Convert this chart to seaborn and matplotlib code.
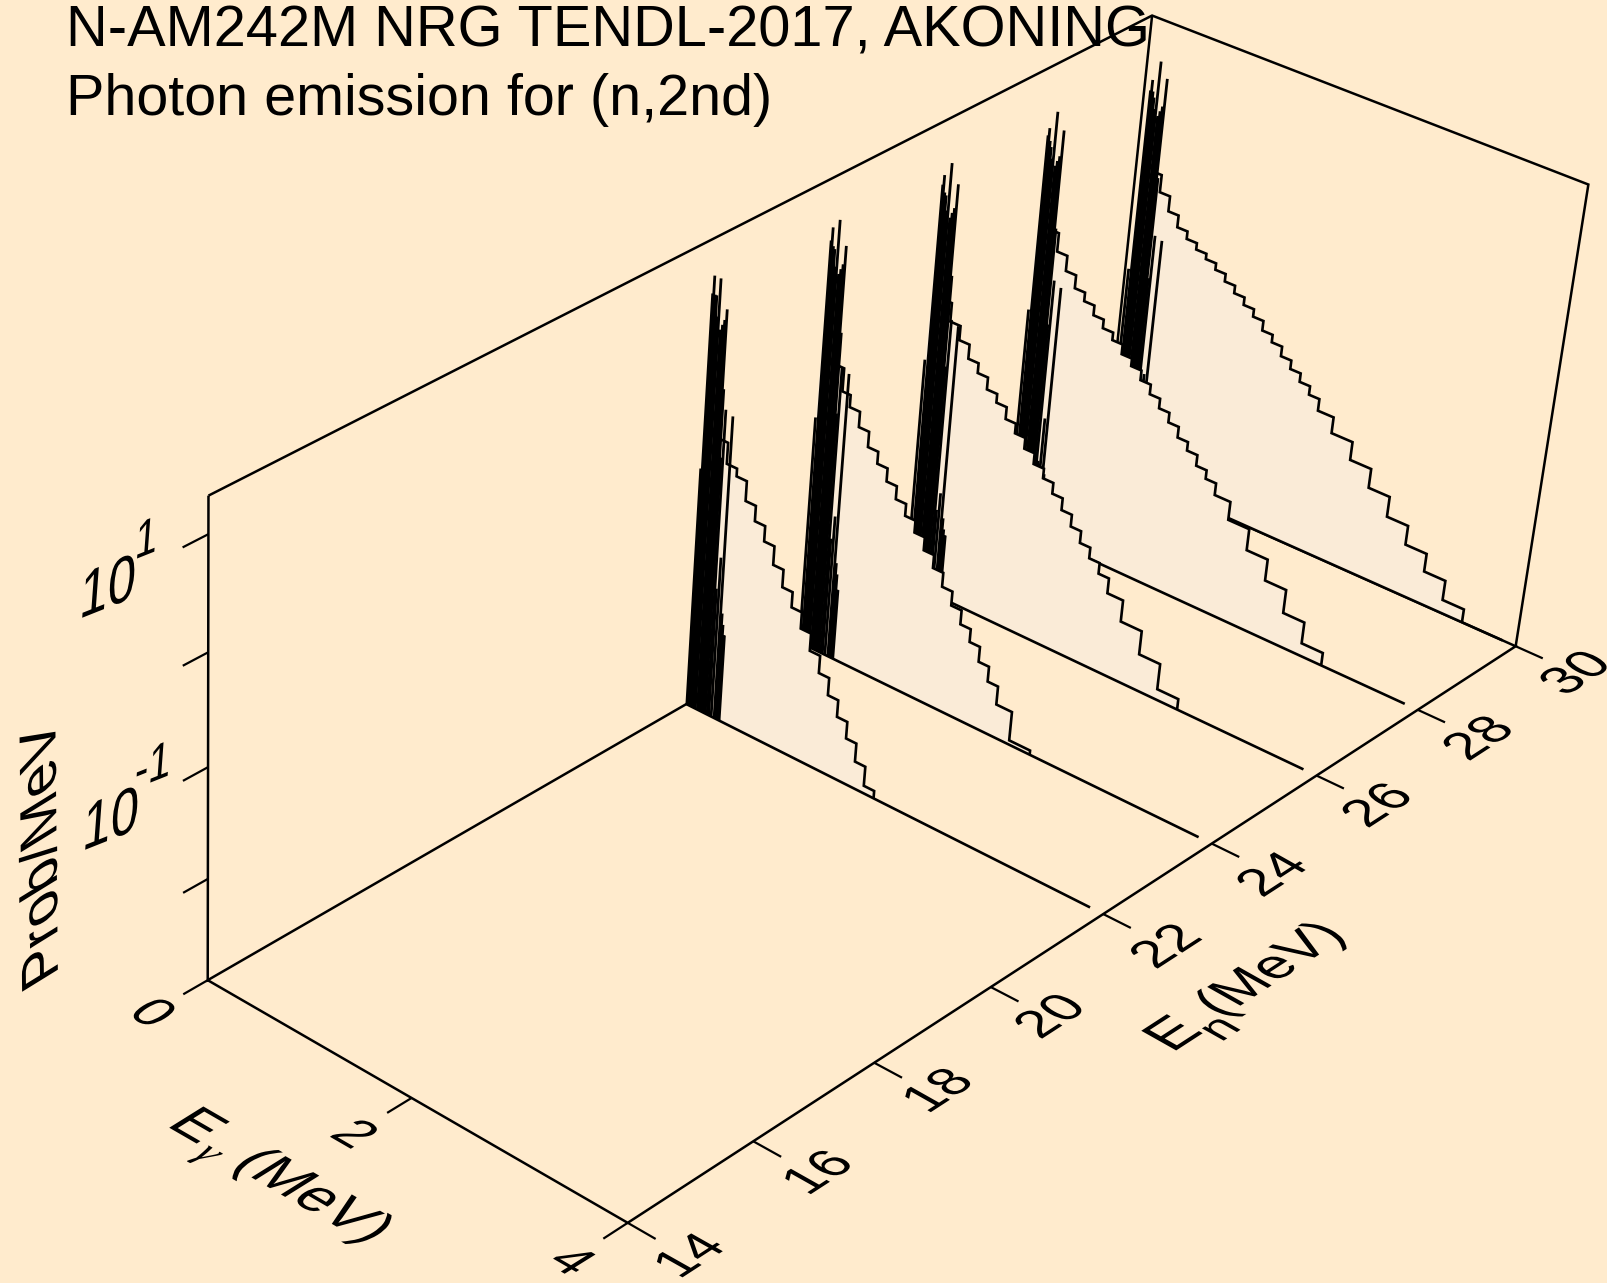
import math

import matplotlib.patheffects as pe
import matplotlib.pyplot as plt
import numpy as np
import seaborn as sns
from matplotlib.transforms import Affine2D

# Gamma spikes at low energy, same positions for every incident energy
spike_eg = [0.005, 0.02, 0.03, 0.045, 0.06, 0.075, 0.09, 0.112, 0.13, 0.148, 0.165,
            0.178, 0.19, 0.21, 0.225, 0.25, 0.28, 0.295, 0.31, 0.32, 0.33]
# the spike group sits a little further along for the higher incident energies
spike_shift = {22: 0.0, 24: 0.04, 26: 0.05, 28: 0.04, 30: 0.04}

# log10(prob/MeV) of the spikes
spikes_22 = [-0.72, 0.85, 1.01, 0.85, 0.85, 0.67, 1.01, 0.57, 0.62, 0.67, 0.77,
             0.07, -0.54, -0.10, -1.73, -1.43, -0.13, -1.93, -2.03, -2.12, -2.12]
spikes_24 = [-0.80, 0.81, 0.93, 0.77, 0.75, 0.60, 1.02, 0.55, 0.60, 0.65, 0.82,
             0.05, -0.68, -0.25, -1.83, -1.61, -0.28, -2.03, -2.13, -2.27, -2.27]
spikes_26 = [-0.81, 0.80, 0.89, 0.74, 0.72, 0.59, 1.02, 0.54, 0.59, 0.64, 0.86,
             0.04, -0.79, -0.35, -2.13, -1.96, -0.38, -2.18, -2.28, -2.33, -2.33]
spikes_28 = [-0.88, 0.74, 0.81, 0.70, 0.65, 0.55, 0.98, 0.50, 0.55, 0.60, 0.84,
             -0.05, -0.94, -0.52, -2.23, -1.81, -0.56, -2.33, -2.43, -2.48, -2.48]
spikes_30 = [-1.02, 0.66, 0.76, 0.66, 0.61, 0.51, 0.95, 0.46, 0.51, 0.56, 0.82,
             -0.09, -1.03, -0.62, -2.33, -1.93, -0.64, -2.43, -2.53, -2.58, -2.58]

# Histogram bins of the continuum: bin edges (MeV) and log10(prob/MeV)
edges_22 = [0.15, 0.25, 0.35, 0.45, 0.55, 0.65, 0.75, 0.85, 0.95, 1.05, 1.15, 1.25,
            1.35, 1.45, 1.55, 1.65, 1.75, 1.85]
stairs_22 = [-0.38, -0.57, -0.64, -0.82, -0.96, -1.10, -1.27, -1.43, -1.57, -1.72,
             -1.88, -2.04, -2.20, -2.355, -2.51, -2.68, -2.86]
edges_24 = [0.19, 0.27, 0.35, 0.45, 0.55, 0.65, 0.75, 0.85, 0.95, 1.05, 1.15, 1.25,
            1.35, 1.45, 1.55, 1.65, 1.75, 1.85, 1.95, 2.10, 2.30]
stairs_24 = [-0.25, -0.46, -0.57, -0.71, -0.85, -0.96, -1.08, -1.20, -1.31, -1.42,
             -1.54, -1.66, -1.79, -1.92, -2.05, -2.17, -2.31, -2.45, -2.62, -2.89]
edges_26 = [0.15, 0.25, 0.35, 0.45, 0.55, 0.65, 0.75, 0.85, 0.95, 1.05, 1.15, 1.25,
            1.35, 1.45, 1.55, 1.65, 1.75, 1.85, 1.95, 2.10, 2.30, 2.50, 2.70]
stairs_26 = [-0.20, -0.37, -0.50, -0.63, -0.72, -0.83, -0.91, -1.02, -1.11, -1.21,
             -1.31, -1.40, -1.50, -1.61, -1.72, -1.83, -1.93, -2.03, -2.17, -2.37,
             -2.59, -2.83]
edges_28 = [0.15, 0.25, 0.35, 0.45, 0.55, 0.65, 0.75, 0.85, 0.95, 1.05, 1.15, 1.25,
            1.35, 1.45, 1.55, 1.65, 1.75, 1.85, 1.95, 2.10, 2.30, 2.50, 2.70, 2.90, 3.10]
stairs_28 = [-0.08, -0.25, -0.39, -0.51, -0.59, -0.68, -0.76, -0.83, -0.92, -0.99,
             -1.08, -1.17, -1.26, -1.35, -1.45, -1.53, -1.63, -1.71, -1.82, -1.99,
             -2.19, -2.39, -2.61, -2.81]
edges_30 = [0.15, 0.25, 0.35, 0.45, 0.55, 0.65, 0.75, 0.85, 0.95, 1.05, 1.15, 1.25,
            1.35, 1.45, 1.55, 1.65, 1.75, 1.85, 1.95, 2.10, 2.30, 2.50, 2.70, 2.90,
            3.10, 3.30, 3.50]
stairs_30 = [-0.05, -0.21, -0.35, -0.46, -0.53, -0.59, -0.64, -0.70, -0.77, -0.84,
             -0.91, -0.98, -1.07, -1.14, -1.23, -1.31, -1.39, -1.47, -1.58, -1.73,
             -1.90, -2.08, -2.27, -2.45, -2.62, -2.805]

# Back to front, the nearer ones hide the ones behind
spectra = [(30, edges_30, stairs_30, spikes_30),
           (28, edges_28, stairs_28, spikes_28),
           (26, edges_26, stairs_26, spikes_26),
           (24, edges_24, stairs_24, spikes_24),
           (22, edges_22, stairs_22, spikes_22)]

en_ticks = [14, 16, 18, 20, 22, 24, 26, 28, 30]
eg_ticks = [0, 2, 4]
z_ticks = [1, 0, -1, -2]

EN_MIN, EN_MAX = 14, 30
EG_MIN, EG_MAX = 0, 4
Z_MIN, Z_MAX = -2.93, 1.32
EG_END = 3.88

W, H = 1607, 1283
PX = W / 1568  # anchors below were read on the 1568 wide picture

BG = '#FFEBCD'
FILL = '#FAEBD7'

# Camera of the box: fit a perspective matrix on where the box corners land
anchors = [
    ((14, 0, Z_MIN), (203, 958)), ((14, 0, Z_MIN), (203, 958)), ((14, 4, Z_MIN), (612, 1193)),
    ((30, 4, Z_MIN), (1480, 630)), ((30, 0, Z_MIN), (1076, 452)),
    ((14, 0, Z_MAX), (203, 486)), ((14, 0, Z_MAX), (203, 486)), ((30, 0, Z_MAX), (1126, 15)),
    ((30, 4, Z_MAX), (1549, 180)), ((22, 4, Z_MIN), (1078, 892)),
    ((18, 4, Z_MIN), (853, 1037)), ((26, 4, Z_MIN), (1283, 757)),
    ((14, 2, Z_MIN), (402, 1072)), ((14, 0, 1), (203, 520)),
    ((14, 0, 0), (203, 634)), ((14, 0, -1), (203, 746)),
    ((14, 0, -2), (203, 855)), ((22, 0, Z_MIN), (670, 687)),
]
rows, rhs = [], []
for (en, eg, z), (sx, sy) in anchors:
    sx, sy = sx * PX, sy * PX
    rows.append([en, eg, z, 1, 0, 0, 0, 0, -sx * en, -sx * eg, -sx * z])
    rows.append([0, 0, 0, 0, en, eg, z, 1, -sy * en, -sy * eg, -sy * z])
    rhs += [sx, sy]
cam = np.linalg.lstsq(np.array(rows, dtype=float), np.array(rhs), rcond=None)[0]
cam = np.append(cam, 1.0).reshape(3, 4)


def project(en, eg, z):
    en, eg, z = np.broadcast_arrays(np.asarray(en, float), np.asarray(eg, float), np.asarray(z, float))
    w = cam[2, 0] * en + cam[2, 1] * eg + cam[2, 2] * z + cam[2, 3]
    x = (cam[0, 0] * en + cam[0, 1] * eg + cam[0, 2] * z + cam[0, 3]) / w
    y = (cam[1, 0] * en + cam[1, 1] * eg + cam[1, 2] * z + cam[1, 3]) / w
    return x, y


class PlaneText(pe.AbstractPathEffect):
    # draws the glyphs lying in one face of the box instead of flat on the page
    def __init__(self, center, along, up):
        super().__init__()
        self.center = center
        self.along = along
        self.up = up

    def draw_path(self, renderer, gc, tpath, affine, rgbFace=None):
        m = affine.get_matrix()
        scale = math.sqrt(abs(m[0, 0] * m[1, 1] - m[0, 1] * m[1, 0]))
        box = tpath.get_extents()
        face = Affine2D.from_values(self.along[0], -self.along[1], self.up[0], -self.up[1], 0, 0)
        new = (Affine2D().translate(-(box.x0 + box.x1) / 2, -(box.y0 + box.y1) / 2).scale(scale)
               + face + Affine2D().translate(self.center[0], H - self.center[1]))
        renderer.draw_path(gc, tpath, new, rgbFace)


sns.set_theme(style='white')
plt.rcParams['font.family'] = ['Liberation Sans', 'DejaVu Sans']

fig = plt.figure(figsize=(W / 100, H / 100), dpi=100, facecolor=BG)
ax = fig.add_axes([0, 0, 1, 1])
ax.set_facecolor(BG)


def draw_line(en, eg, z, lw=1.8, zorder=2):
    x, y = project(en, eg, z)
    sns.lineplot(x=x, y=y, sort=False, estimator=None, color='black', linewidth=lw,
                 zorder=zorder, solid_joinstyle='miter', solid_capstyle='butt', ax=ax)


def plane_text(cx, cy, s, along, up, size, grow=1.0, **kw):
    # grow stretches the drawn glyphs beyond the font size of the text box
    angle = math.degrees(math.atan2(-along[1], along[0]))
    along = (along[0] * grow, along[1] * grow)
    up = (up[0] * grow, up[1] * grow)
    ax.text(cx, cy, s, fontsize=size, ha='center', va='center', rotation=angle,
            rotation_mode='anchor', color='black', zorder=50,
            path_effects=[PlaneText((cx, cy), along, up)], **kw)


# Box
draw_line([14, 14, 30, 30, 14, 14], [0, 4, 4, 0, 0, 0], [Z_MIN] * 5 + [Z_MAX])
draw_line([14, 30, 30, 30, 30], [0, 0, 4, 4, 4], [Z_MAX, Z_MAX, Z_MAX, Z_MAX, Z_MIN])
draw_line([30, 30], [0, 0], [Z_MIN, Z_MAX])

# Ticks
for en in en_ticks:
    draw_line([en, en], [EG_MAX, EG_MAX + 0.25], [Z_MIN, Z_MIN], lw=1.6)
for eg in eg_ticks:
    draw_line([EN_MIN, EN_MIN - 0.38], [eg, eg], [Z_MIN, Z_MIN], lw=1.6)
for z in z_ticks:
    draw_line([EN_MIN, EN_MIN - 0.38], [0, 0], [z, z], lw=1.6)

# Spectra
level = 10
for en, edges, stairs, spikes in spectra:
    step_eg = [e for pair in zip(edges[:-1], edges[1:]) for e in pair]
    step_z = [v for v in stairs for _ in range(2)]
    shift = spike_shift[en]
    peaks = [spike_eg[0] + 0.7 * shift] + [e + shift for e in spike_eg[1:]]

    fx, fy = project(en, [edges[0]] + step_eg + [edges[-1]], [Z_MIN] + step_z + [Z_MIN])
    ax.fill(fx, fy, color=FILL, lw=0, zorder=level)
    fx, fy = project(en, [peaks[0]] + peaks + [peaks[-1]], [Z_MIN] + spikes + [Z_MIN])
    ax.fill(fx, fy, color=FILL, lw=0, zorder=level)

    draw_line(en, step_eg + [edges[-1]], step_z + [Z_MIN], lw=1.9, zorder=level + 1)
    draw_line(en, [0, EG_END], [Z_MIN, Z_MIN], lw=1.9, zorder=level + 1)
    for eg, z in zip(peaks, spikes):
        draw_line(en, [eg, eg], [Z_MIN, z], lw=2.0, zorder=level + 2)
    level += 5

ax.set_xlim(0, W)
ax.set_ylim(H, 0)
ax.axis('off')

# Titles
ax.text(66, 46, 'N-AM242M NRG TENDL-2017, AKONING', fontsize=41.6, color='black',
        ha='left', va='baseline', zorder=50)
ax.text(66, 115, 'Photon emission for (n,2nd)', fontsize=41.4, color='black',
        ha='left', va='baseline', zorder=50)

# Labels lying on the floor, reading along the Eg axis
eg_along, eg_up = (0.866, 0.50), (0.85, -0.53)
for cx, cy, s in [(154, 1012, '0'), (356, 1133, '2'), (573, 1260, '4')]:
    plane_text(cx, cy, s, eg_along, eg_up, 25, grow=1.52)
plane_text(200, 1125, 'E', eg_along, eg_up, 42)
plane_text(204, 1157, 'γ', eg_along, eg_up, 30, family='Liberation Serif', style='italic')
plane_text(312, 1197, '(MeV)', eg_along, eg_up, 42)

# Labels on the floor, reading along the En axis
en_along, en_up = (0.839, -0.544), (-0.87, -0.49)
en_labels = [(689, 1254, '14'), (817, 1171, '16'), (937, 1089, '18'), (1049, 1015, '20'),
             (1164, 945, '22'), (1271, 873, '24'), (1376, 804, '26'), (1477, 737, '28'),
             (1574, 672, '30')]
for cx, cy, s in en_labels:
    plane_text(cx, cy, s, en_along, en_up, 25, grow=1.52)
plane_text(1172, 1032, 'E', en_along, en_up, 42)
plane_text(1221, 1029, 'n', en_along, en_up, 34)
plane_text(1272, 970, '(MeV)', en_along, en_up, 40)

# Labels on the left wall
wall_along, wall_up = (0.93, -0.37), (0.09, -1.22)
plane_text(109, 585, '10', wall_along, wall_up, 39)
plane_text(147, 537, '1', wall_along, wall_up, 31)
plane_text(112, 817, '10', wall_along, wall_up, 39)
plane_text(153, 764, '-1', wall_along, wall_up, 31)
plane_text(38, 854, 'Prob/MeV', (-0.01, -1.0), (-0.89, 0.55), 42)

fig.savefig('out.png', dpi=100, facecolor=BG)
